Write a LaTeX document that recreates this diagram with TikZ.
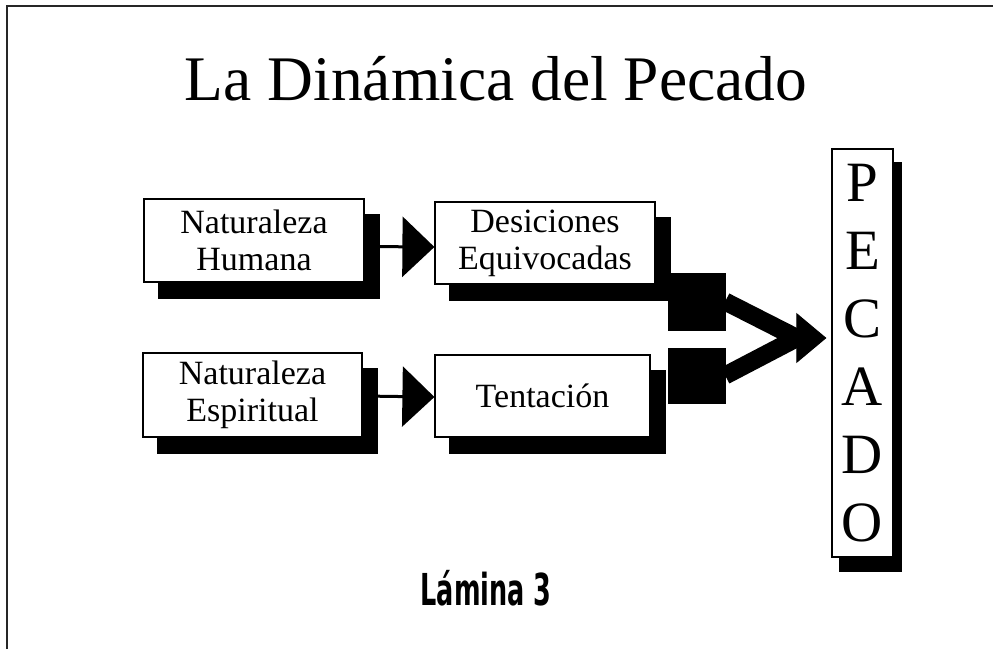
\documentclass[tikz,border=0pt]{standalone}
\usepackage{fontspec}
\setmainfont{Liberation Serif}
\newfontfamily\laminafont[FakeStretch=0.58]{DejaVu Sans}
\usetikzlibrary{shadows,arrows.meta}
\begin{document}
\begin{tikzpicture}[x=1pt,y=-1pt,
  stepbox/.style={draw=black, line width=1.2pt, fill=white, align=center,
    inner sep=0pt, font=\fontsize{34}{37}\selectfont,
    copy shadow={shadow xshift=15pt, shadow yshift=-16pt, fill=black, draw=black}},
  blk/.style={fill=black, draw=black, inner sep=0pt, minimum width=57pt},
  smallarrow/.style={line width=3pt, -{Triangle[length=32pt,width=60pt]}},
  bigline/.style={line width=18pt}]
\useasboundingbox (0,0) rectangle (993,649);
\fill[white] (0,0) rectangle (993,649);
% frame
\draw[line width=2pt, black!85] (7,649) -- (7,6) -- (993,6);
% title
\node[anchor=base, font=\fontsize{63.5}{70}\selectfont, inner sep=0pt] (title) at (496,100) {La Dinámica del Pecado};
% boxes
\node[stepbox, minimum width=220pt, minimum height=83pt] (nh) at (254,240.5) {Naturaleza\\Humana};
\node[stepbox, minimum width=220pt, minimum height=82pt] (de) at (545,243) {Desiciones\\Equivocadas};
\node[stepbox, minimum width=219pt, minimum height=84pt] (ne) at (252.5,395) {Naturaleza\\Espiritual};
\node[stepbox, minimum width=215pt, minimum height=82pt] (te) at (542.5,396) {Tentación};
% black blocks
\node[blk, minimum height=57pt] (b1) at (696.5,301.5) {};
\node[blk, minimum height=55pt] (b2) at (696.5,375.5) {};
% PECADO
\node[draw=black, line width=1.2pt, fill=white, minimum width=61pt, minimum height=408pt,
  inner sep=0pt, align=center, font=\fontsize{57}{68}\selectfont,
  copy shadow={shadow xshift=8pt, shadow yshift=-14pt, fill=black, draw=black}] (pec) at (862.5,353)
  {P\\E\\C\\A\\D\\O};
% connectors
\draw[smallarrow] ([yshift=-6pt]nh.east) -- ([yshift=-4pt]de.west);
\draw[smallarrow] ([yshift=-1pt]ne.east) -- ([yshift=-1pt]te.west);
\coordinate (conv) at (797,338);
\draw[bigline] (b1.east) -- (conv);
\draw[bigline] (b2.east) -- (conv);
\draw[line width=1pt, -{Triangle[length=30pt,width=50pt]}, shorten >=5pt] (conv) -- (pec.west |- conv);
% plate label
\node[anchor=base, inner sep=0pt, font=\laminafont\bfseries\fontsize{44}{48}\selectfont] (lam) at (486,605) {Lámina 3};
\end{tikzpicture}
\end{document}
